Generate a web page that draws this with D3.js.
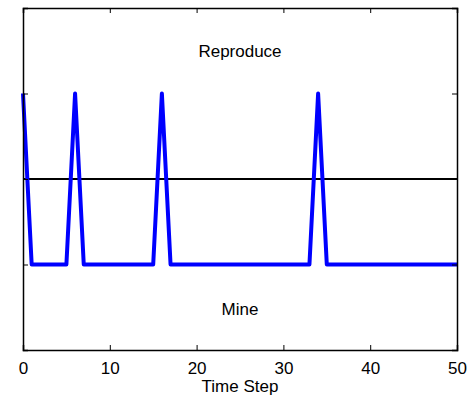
<!DOCTYPE html>
<html>
<head>
<meta charset="utf-8">
<script src="https://cdn.jsdelivr.net/npm/d3@7"></script>
<style>
  body { margin: 0; background: #fff; }
  text { font-family: "Liberation Sans", Arial, sans-serif; }
</style>
</head>
<body>
<div class="chart"></div>
<script>
// data
var steps = d3.range(0, 51);
var spikeSteps = [0, 6, 16, 34];
var values = steps.map(s => spikeSteps.indexOf(s) >= 0 ? 1 : 0);
var xTicks = [0, 10, 20, 30, 40, 50];
var yTicks = [0, 0.5, 1];
var threshold = 0.5;
var topLabel = "Reproduce";
var bottomLabel = "Mine";
var xLabel = "Time Step";

var svgWidth = 473, svgHeight = 397;
var margin = { top: 8, right: 16, bottom: 47, left: 23 };
var width = svgWidth - margin.left - margin.right;
var height = svgHeight - margin.top - margin.bottom;
var fontSize = 17;

var svg = d3.select(".chart").append("svg")
  .attr("width", svgWidth)
  .attr("height", svgHeight);

var g = svg.append("g")
  .attr("transform", `translate(${margin.left}, ${margin.top})`);

var x = d3.scaleLinear().domain([0, 50]).range([0, width]);
var y = d3.scaleLinear().domain([-0.5, 1.5]).range([height, 0]);

// threshold line
g.append("line")
  .attr("x1", 0).attr("x2", width)
  .attr("y1", y(threshold)).attr("y2", y(threshold))
  .attr("stroke", "#000").attr("stroke-width", 2);

// series
var line = d3.line().x((d, i) => x(steps[i])).y(d => y(d));
g.append("path")
  .datum(values)
  .attr("d", line)
  .attr("fill", "none")
  .attr("stroke", "#0000ff")
  .attr("stroke-width", 4)
  .attr("stroke-linejoin", "round");

// axes (ticks inside, like matlab)
var bottomAxis = d3.axisBottom(x).tickValues(xTicks).tickSize(-5).tickPadding(12);
var topAxis = d3.axisTop(x).tickValues(xTicks).tickSize(-5).tickFormat("");
var leftAxis = d3.axisLeft(y).tickValues(yTicks).tickSize(-5).tickFormat("");
var rightAxis = d3.axisRight(y).tickValues(yTicks).tickSize(-5).tickFormat("");

function styleAxis(sel) {
  sel.select(".domain").attr("stroke", "#000").attr("stroke-width", 1.5);
  sel.selectAll(".tick line").attr("stroke", "#000");
  sel.selectAll("text").attr("font-size", fontSize).attr("fill", "#000")
    .style("font-family", '"Liberation Sans", Arial, sans-serif');
}

g.append("g").attr("transform", `translate(0, ${height})`).call(bottomAxis).call(styleAxis);
g.append("g").call(topAxis).call(styleAxis);
g.append("g").call(leftAxis).call(styleAxis);
g.append("g").attr("transform", `translate(${width}, 0)`).call(rightAxis).call(styleAxis);

// labels
g.append("text")
  .attr("x", x(25)).attr("y", 49)
  .attr("text-anchor", "middle")
  .attr("font-size", fontSize)
  .text(topLabel);

g.append("text")
  .attr("x", x(25)).attr("y", 307)
  .attr("text-anchor", "middle")
  .attr("font-size", fontSize)
  .text(bottomLabel);

svg.append("text")
  .attr("x", margin.left + x(25)).attr("y", 392)
  .attr("text-anchor", "middle")
  .attr("font-size", fontSize)
  .text(xLabel);
</script>
</body>
</html>
